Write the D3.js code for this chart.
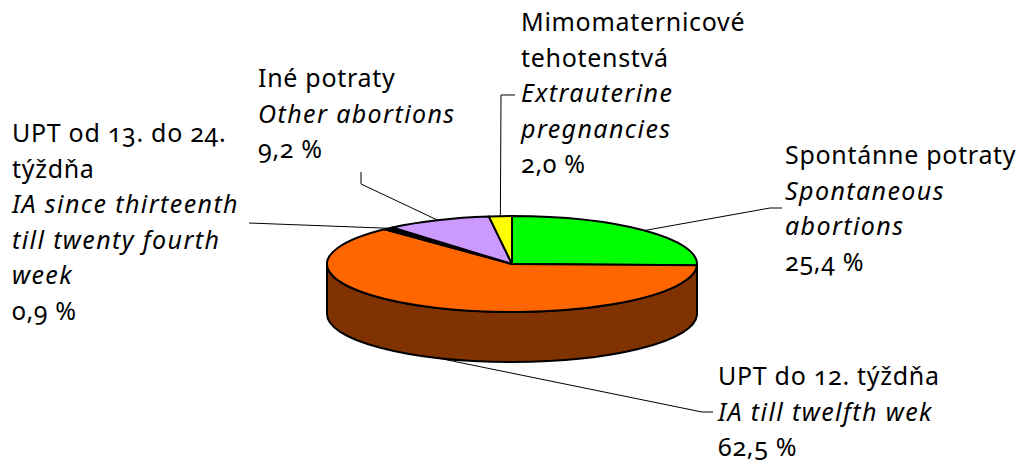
<!DOCTYPE html>
<html>
<head>
<meta charset="utf-8">
<script src="https://cdn.jsdelivr.net/npm/d3@7"></script>
<style>
  html, body { margin: 0; padding: 0; background: #fff; }
  #chart text {
    font-family: "Noto Sans", "Open Sans", sans-serif;
    font-size: 25px;
    fill: #000;
    font-feature-settings: "onum" 1;
    font-variant-numeric: oldstyle-nums;
  }
  #chart tspan.sk { letter-spacing: 0.7px; }
  #chart tspan.en { font-style: italic; letter-spacing: 1.4px; }
</style>
</head>
<body>
<div id="chart"></div>
<script>
// slice order: clockwise from 12 o'clock
const namesSk = [
  ['Spontánne potraty'],
  ['UPT do 12. týždňa'],
  ['UPT od 13. do 24.', 'týždňa'],
  ['Iné potraty'],
  ['Mimomaternicové', 'tehotenstvá']
];
const namesEn = [
  ['Spontaneous', 'abortions'],
  ['IA till twelfth wek'],
  ['IA since thirteenth', 'till twenty fourth', 'week'],
  ['Other abortions'],
  ['Extrauterine', 'pregnancies']
];
const values = [25.4, 62.5, 0.9, 9.2, 2.0];
const colors = ['#00ff00', '#ff6600', '#000000', '#cc99ff', '#ffff00'];

const W = 1024, H = 462;
const pieCfg = { cx: 512, cy: 264, rx: 185, ry: 48, depth: 50 };
const lineH = 35.6;

// label placement + leader bend points (anchor comes from the pie)
const labelLayout = [
  { x: 785, y: 164, leader: [[770, 208], [782, 208]], anchorSide: 'top' },
  { x: 718, y: 385, leader: [[702, 412], [713, 412]], anchorSide: 'bottom' },
  { x: 12, y: 142, leader: [[249, 223]], anchorSide: 'top' },
  { x: 258, y: 87, leader: [[361, 184], [361, 172]], anchorSide: 'top' },
  { x: 521, y: 31, leader: [[501, 95], [515, 95]], anchorSide: 'top' }
];

const svg = d3.select('#chart').append('svg')
  .attr('width', W).attr('height', H);

const pie = d3.pie().sort(null).startAngle(0).endAngle(2 * Math.PI);
const arcsData = pie(values);

const pt = (a, dy = 0) => [
  pieCfg.cx + pieCfg.rx * Math.sin(a),
  pieCfg.cy - pieCfg.ry * Math.cos(a) + dy
];

/* ---------------- SIDE WALLS ---------------- */
const sideG = svg.append('g');
arcsData.forEach((d, i) => {
  const s = Math.max(d.startAngle, Math.PI / 2);
  const e = Math.min(d.endAngle, 3 * Math.PI / 2);
  if (e <= s) return;
  const p0 = pt(s), p1 = pt(e);
  const q0 = pt(s, pieCfg.depth), q1 = pt(e, pieCfg.depth);
  const path = `M${p0}A${pieCfg.rx},${pieCfg.ry} 0 0 1 ${p1}` +
    `L${q1}A${pieCfg.rx},${pieCfg.ry} 0 0 0 ${q0}Z`;
  const c = d3.rgb(colors[i]);
  sideG.append('path')
    .attr('d', path)
    .attr('fill', d3.rgb(c.r * 0.5, c.g * 0.5, c.b * 0.5))
    .attr('stroke', '#000')
    .attr('stroke-width', 2)
    .attr('stroke-linejoin', 'round');
});

/* ---------------- TOP FACES ---------------- */
const arcGen = d3.arc().innerRadius(0).outerRadius(pieCfg.rx);
svg.append('g')
  .attr('transform', `translate(${pieCfg.cx},${pieCfg.cy}) scale(1,${pieCfg.ry / pieCfg.rx})`)
  .selectAll('path')
  .data(arcsData)
  .enter()
  .append('path')
  .attr('d', arcGen)
  .attr('fill', (d, i) => colors[i])
  .attr('stroke', '#000')
  .attr('stroke-width', 2)
  .attr('stroke-linejoin', 'round')
  .attr('vector-effect', 'non-scaling-stroke');

/* ---------------- LEADERS ---------------- */
const lineGen = d3.line();
arcsData.forEach((d, i) => {
  const mid = (d.startAngle + d.endAngle) / 2;
  const lay = labelLayout[i];
  const anchor = pt(mid, lay.anchorSide === 'bottom' ? pieCfg.depth : 0);
  svg.append('path')
    .attr('d', lineGen([anchor].concat(lay.leader)))
    .attr('fill', 'none')
    .attr('stroke', '#000')
    .attr('stroke-width', 1);
});

/* ---------------- LABELS ---------------- */
const fmt = v => d3.format('.1f')(v).replace('.', ',') + ' %';
values.forEach((v, i) => {
  const lay = labelLayout[i];
  const lines = []
    .concat(namesSk[i].map(t => ({ t, cls: 'sk' })))
    .concat(namesEn[i].map(t => ({ t, cls: 'en' })))
    .concat([{ t: fmt(v), cls: 'sk' }]);
  const txt = svg.append('text').attr('x', lay.x).attr('y', lay.y);
  lines.forEach((l, k) => {
    txt.append('tspan')
      .attr('class', l.cls)
      .attr('x', lay.x)
      .attr('y', lay.y + k * lineH)
      .text(l.t);
  });
});
</script>
</body>
</html>
